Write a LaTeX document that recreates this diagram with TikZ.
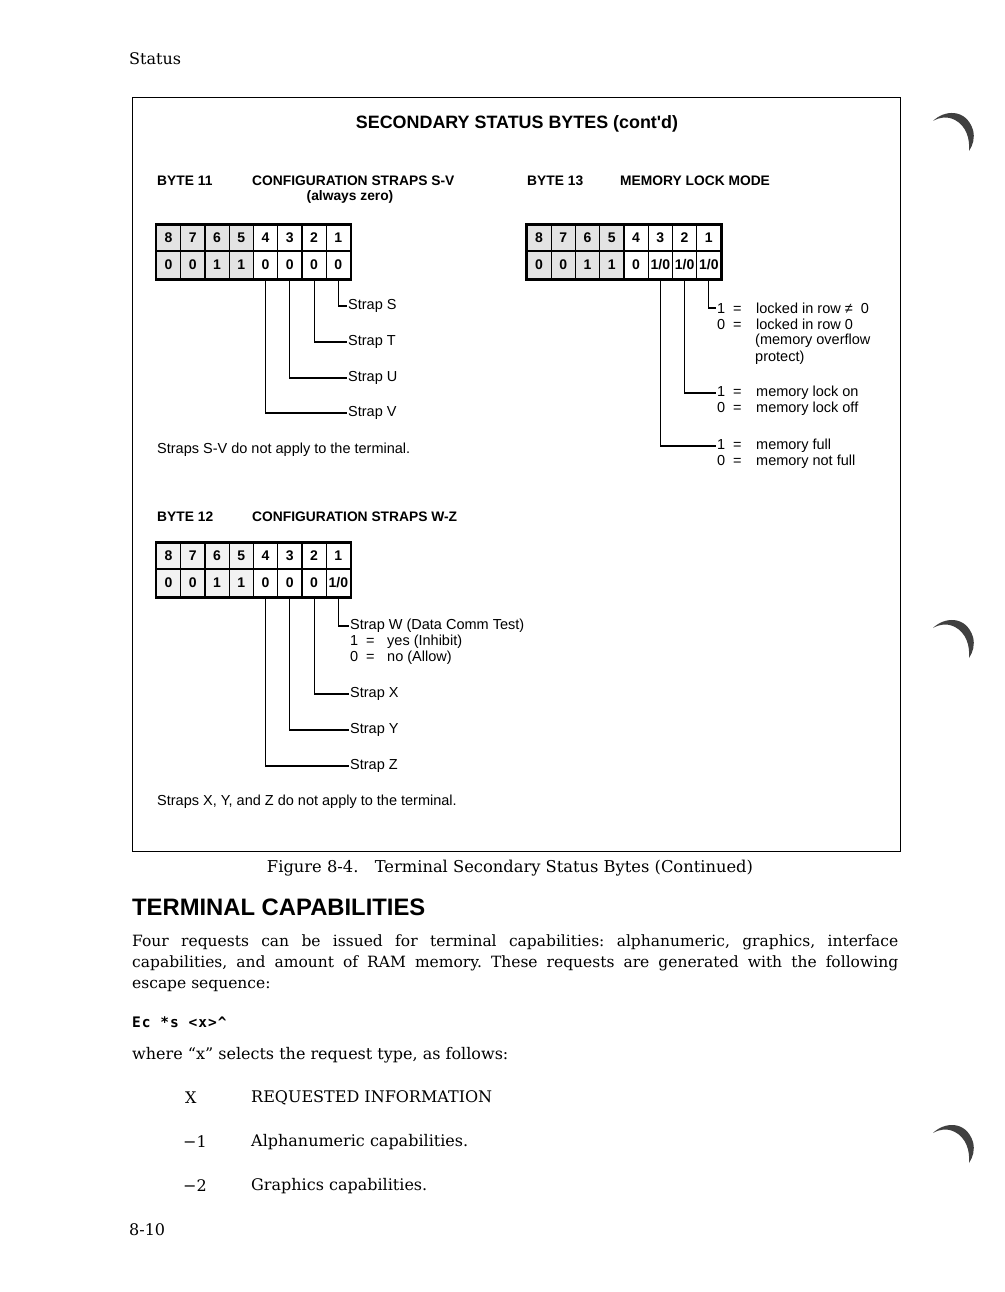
\documentclass[tikz,border=0pt]{standalone}
\usepackage{fontspec}
\newfontfamily\figsans{Liberation Sans}
\newfontfamily\bookserif{DejaVu Serif}
\newfontfamily\escmono[LetterSpace=7]{DejaVu Sans Mono}
\usetikzlibrary{positioning,backgrounds}
\frenchspacing
\begin{document}
\begin{tikzpicture}[x=1pt,y=-1pt,node distance=24.25pt,every node/.style={inner sep=1pt}]
\tikzstyle{bit}=[draw,line width=1.4pt,minimum width=24.25pt,minimum height=26pt,inner sep=0pt,font=\figsans\bfseries\fontsize{14}{16}\selectfont]
\tikzstyle{val}=[bit,minimum height=28pt]
\tikzstyle{lit}=[fill=black!11]
\tikzstyle{faint}=[fill=black!5]
\tikzstyle{box}=[draw,line width=1.8pt]
\tikzstyle{lead}=[draw,line width=1.1pt]
\tikzstyle{figtext}=[anchor=west,font=\figsans\fontsize{14.5}{17}\selectfont]
\tikzstyle{bytehead}=[anchor=west,font=\figsans\bfseries\fontsize{13.8}{16}\selectfont]
\tikzstyle{pagetext}=[anchor=west,font=\bookserif\fontsize{16}{21}\selectfont]
\tikzstyle{hole}=[fill=black!75]
\useasboundingbox (0,0) rectangle (1004,1292);

\node[pagetext](status) at (128,59){Status};
\draw[line width=1pt] (132,98) rectangle (900,851);
\node[font=\figsans\bfseries\fontsize{17.9}{20}\selectfont](title) at (517,124){SECONDARY STATUS BYTES (cont'd)};

% byte 11
\node[bytehead](b11) at (156,181){BYTE 11};
\node[bytehead](b11t) at (251,181){CONFIGURATION STRAPS S-V};
\node[font=\figsans\bfseries\fontsize{13.8}{16}\selectfont](b11z) at (350,197){(always zero)};

\node[bit](h11b8) at (168.6,238){8};
\node[bit,right of=h11b8](h11b7){7};
\node[bit,right of=h11b7](h11b6){6};
\node[bit,right of=h11b6](h11b5){5};
\node[bit,right of=h11b5](h11b4){4};
\node[bit,right of=h11b4](h11b3){3};
\node[bit,right of=h11b3](h11b2){2};
\node[bit,right of=h11b2](h11b1){1};

\node[val,below of=h11b8,node distance=27pt](v11b8){0};
\node[val,right of=v11b8](v11b7){0};
\node[val,right of=v11b7](v11b6){1};
\node[val,right of=v11b6](v11b5){1};
\node[val,right of=v11b5](v11b4){0};
\node[val,right of=v11b4](v11b3){0};
\node[val,right of=v11b3](v11b2){0};
\node[val,right of=v11b2](v11b1){0};
\draw[box] (h11b8.north west) rectangle (v11b1.south east);
\begin{scope}[on background layer]
\path[lit] (h11b8.north west) rectangle (v11b5.south east);
\end{scope}

\node[figtext](sS) at (347,306){Strap S};
\node[figtext](sT) at (347,342){Strap T};
\node[figtext](sU) at (347,378){Strap U};
\node[figtext](sV) at (347,413){Strap V};
\draw[lead] (v11b1.south) |- (sS.west);
\draw[lead] (v11b2.south) |- (sT.west);
\draw[lead] (v11b3.south) |- (sU.west);
\draw[lead] (v11b4.south) |- (sV.west);
\node[figtext](n11) at (156,450){Straps S-V do not apply to the terminal.};

% byte 13
\node[bytehead](b13) at (526,181){BYTE 13};
\node[bytehead](b13t) at (619,181){MEMORY LOCK MODE};

\node[bit](h13b8) at (539.1,238){8};
\node[bit,right of=h13b8](h13b7){7};
\node[bit,right of=h13b7](h13b6){6};
\node[bit,right of=h13b6](h13b5){5};
\node[bit,right of=h13b5](h13b4){4};
\node[bit,right of=h13b4](h13b3){3};
\node[bit,right of=h13b3](h13b2){2};
\node[bit,right of=h13b2](h13b1){1};

\node[val,below of=h13b8,node distance=27pt](v13b8){0};
\node[val,right of=v13b8](v13b7){0};
\node[val,right of=v13b7](v13b6){1};
\node[val,right of=v13b6](v13b5){1};
\node[val,right of=v13b5](v13b4){0};
\node[val,right of=v13b4](v13b3){1/0};
\node[val,right of=v13b3](v13b2){1/0};
\node[val,right of=v13b2](v13b1){1/0};
\draw[box] (h13b8.north west) rectangle (v13b1.south east);
\begin{scope}[on background layer]
\path[lit] (h13b8.north west) rectangle (v13b5.south east);
\end{scope}

\node[figtext](m1a) at (716,308){\makebox[16pt][l]{1}\makebox[23pt][l]{=}locked in row ≠~~0};
\node[figtext](m1b) at (716,324){\makebox[16pt][l]{0}\makebox[23pt][l]{=}locked in row 0};
\node[figtext](m1c) at (754,341){(memory overflow};
\node[figtext](m1d) at (754,358){protect)};
\node[figtext](m2a) at (716,393){\makebox[16pt][l]{1}\makebox[23pt][l]{=}memory lock on};
\node[figtext](m2b) at (716,409){\makebox[16pt][l]{0}\makebox[23pt][l]{=}memory lock off};
\node[figtext](m3a) at (716,446){\makebox[16pt][l]{1}\makebox[23pt][l]{=}memory full};
\node[figtext](m3b) at (716,462){\makebox[16pt][l]{0}\makebox[23pt][l]{=}memory not full};
\draw[lead] (v13b1.south) |- (m1a.west);
\draw[lead] (v13b2.south) |- (m2a.west);
\draw[lead] (v13b3.south) |- (m3a.west);

% byte 12
\node[bytehead](b12) at (156,517){BYTE 12};
\node[bytehead](b12t) at (251,517){CONFIGURATION STRAPS W-Z};

\node[bit](h12b8) at (168.6,556){8};
\node[bit,right of=h12b8](h12b7){7};
\node[bit,right of=h12b7](h12b6){6};
\node[bit,right of=h12b6](h12b5){5};
\node[bit,right of=h12b5](h12b4){4};
\node[bit,right of=h12b4](h12b3){3};
\node[bit,right of=h12b3](h12b2){2};
\node[bit,right of=h12b2](h12b1){1};

\node[val,below of=h12b8,node distance=27pt](v12b8){0};
\node[val,right of=v12b8](v12b7){0};
\node[val,right of=v12b7](v12b6){1};
\node[val,right of=v12b6](v12b5){1};
\node[val,right of=v12b5](v12b4){0};
\node[val,right of=v12b4](v12b3){0};
\node[val,right of=v12b3](v12b2){0};
\node[val,right of=v12b2](v12b1){1/0};
\draw[box] (h12b8.north west) rectangle (v12b1.south east);
\begin{scope}[on background layer]
\path[faint] (h12b8.north west) rectangle (v12b5.south east);
\end{scope}

\node[figtext](sW) at (349,626){Strap W (Data Comm Test)};
\node[figtext](w1) at (349,642){\makebox[16pt][l]{1}\makebox[21pt][l]{=}yes (Inhibit)};
\node[figtext](w0) at (349,658){\makebox[16pt][l]{0}\makebox[21pt][l]{=}no (Allow)};
\node[figtext](sX) at (349,694){Strap X};
\node[figtext](sY) at (349,730){Strap Y};
\node[figtext](sZ) at (349,766){Strap Z};
\draw[lead] (v12b1.south) |- (sW.west);
\draw[lead] (v12b2.south) |- (sX.west);
\draw[lead] (v12b3.south) |- (sY.west);
\draw[lead] (v12b4.south) |- (sZ.west);
\node[figtext](n12) at (156,802){Straps X, Y, and Z do not apply to the terminal.};

% page text
\node[font=\bookserif\fontsize{16.3}{21}\selectfont](cap) at (510,868){Figure 8-4.\quad Terminal Secondary Status Bytes (Continued)};
\node[anchor=west,inner sep=0pt,font=\figsans\bfseries\fontsize{23.8}{27}\selectfont](tc) at (132,907){TERMINAL CAPABILITIES};
\node[anchor=north west,inner sep=0pt,text width=766pt,align=justify,font=\bookserif\fontsize{15.5}{21}\selectfont](para) at (132,935){Four requests can be issued for terminal capabilities: alphanumeric, graphics, interface\linebreak capabilities, and amount of RAM memory. These requests are generated with the following\linebreak escape sequence:};
\node[anchor=west,inner sep=0pt,font=\escmono\bfseries\fontsize{14.5}{16}\selectfont](esc) at (132,1022){Ec *s <x>\^{}};
\node[pagetext](where) at (131,1055){where “x” selects the request type, as follows:};
\node[pagetext](xh) at (184,1098){X};
\node[pagetext](rh) at (250,1098){REQUESTED INFORMATION};
\node[pagetext](x1) at (182,1142){−1};
\node[pagetext](r1) at (250,1142){Alphanumeric capabilities.};
\node[pagetext](x2) at (182,1186){−2};
\node[pagetext](r2) at (250,1186){Graphics capabilities.};
\node[pagetext](pg) at (128,1230){8-10};

% binder holes
\fill[hole] (933,121) .. controls (944,110) and (966,108) .. (973,130) .. controls (975,138) and (973,145) .. (969,151) .. controls (970,138) and (966,126) .. (955,120) .. controls (947,116) and (940,117) .. cycle;
\fill[hole,shift={(0,507)}] (933,121) .. controls (944,110) and (966,108) .. (973,130) .. controls (975,138) and (973,145) .. (969,151) .. controls (970,138) and (966,126) .. (955,120) .. controls (947,116) and (940,117) .. cycle;
\fill[hole,shift={(0,1012)}] (933,121) .. controls (944,110) and (966,108) .. (973,130) .. controls (975,138) and (973,145) .. (969,151) .. controls (970,138) and (966,126) .. (955,120) .. controls (947,116) and (940,117) .. cycle;
\end{tikzpicture}
\end{document}
